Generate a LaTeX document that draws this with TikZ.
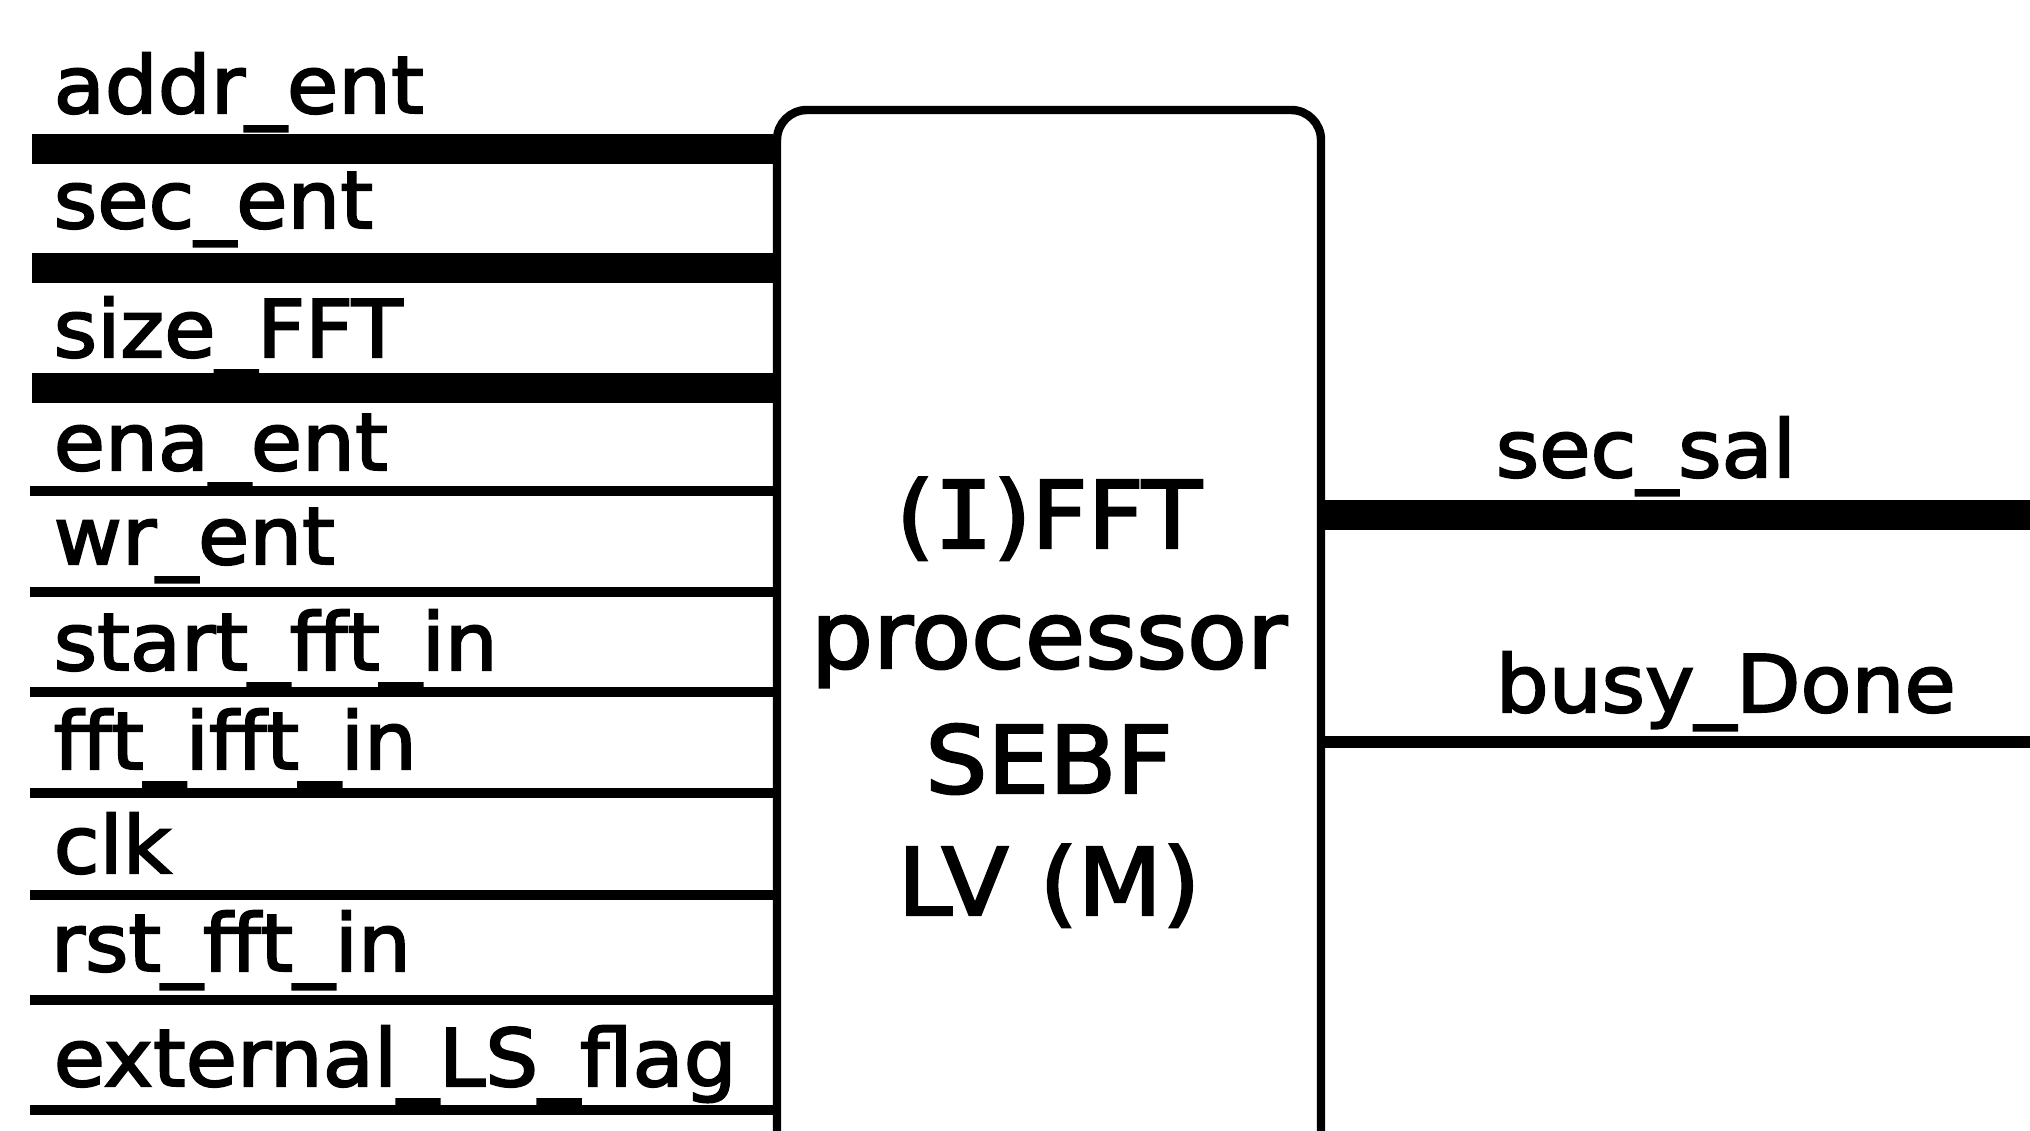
\documentclass[tikz,border=0pt]{standalone}
\usepackage{fontspec}
\setmainfont{DejaVu Sans}[FakeStretch=1.05,FakeBold=2.5]
\newfontfamily\serifI{DejaVu Sans Mono}[FakeStretch=1.05,FakeBold=2.5]
\begin{document}
\begin{tikzpicture}[x=0.01cm,y=-0.01cm,
  lbl/.style={anchor=base west,inner sep=0pt,font=\fontsize{22.6pt}{27pt}\selectfont},
  boxtxt/.style={anchor=base,inner sep=0pt,font=\fontsize{26.5pt}{32pt}\selectfont},
  bus/.style={line width=8.6pt},
  wire/.style={line width=2.9pt},
  owire/.style={line width=3.3pt},
  procbox/.style={draw,line width=2.4pt,rounded corners=8.5pt,minimum width=544*0.01cm,minimum height=1140*0.01cm,inner sep=0pt}]
\useasboundingbox (0,0) rectangle (2030,1130);
\clip (0,0) rectangle (2030,1130);
\fill[white] (0,0) rectangle (2030,1130);
% block
\node[procbox] (proc) at (1049,680) {};
\node[boxtxt] (t1) at (1049,548) {({\serifI I})FFT};
\node[boxtxt] (t2) at (1049,668) {processor};
\node[boxtxt] (t3) at (1049,793) {SEBF};
\node[boxtxt] (t4) at (1049,915) {LV (M)};
% input free ends
\coordinate (c1) at (32,149);
\coordinate (c2) at (32,268);
\coordinate (c3) at (32,388);
\coordinate (c4) at (30,491);
\coordinate (c5) at (30,592);
\coordinate (c6) at (30,692);
\coordinate (c7) at (30,793);
\coordinate (c8) at (30,895);
\coordinate (c9) at (30,1000);
\coordinate (c10) at (30,1110);
\draw[bus] (c1) -- (c1 -| proc.west);
\draw[bus] (c2) -- (c2 -| proc.west);
\draw[bus] (c3) -- (c3 -| proc.west);
\foreach \i in {4,...,10}{\draw[wire] (c\i) -- (c\i -| proc.west);}
% input labels
\node[lbl] (l1) at (53,113) {addr\_ent};
\node[lbl] (l2) at (53,228) {sec\_ent};
\node[lbl] (l3) at (53,357) {size\_FFT};
\node[lbl] (l4) at (53,470) {ena\_ent};
\node[lbl] (l5) at (53,564) {wr\_ent};
\node[lbl] (l6) at (53,670) {start\_fft\_in};
\node[lbl] (l7) at (53,769) {fft\_ifft\_in};
\node[lbl] (l8) at (53,873) {clk};
\node[lbl] (l9) at (50,971) {rst\_fft\_in};
\node[lbl] (l10) at (53,1086) {external\_LS\_flag};
% outputs
\coordinate (o1) at (2040,515);
\coordinate (o2) at (2040,742);
\draw[bus] (o1 -| proc.east) -- (o1);
\draw[owire] (o2 -| proc.east) -- (o2);
\node[lbl] (r1) at (1495,477) {sec\_sal};
\node[lbl] (r2) at (1495,712) {busy\_Done};
\end{tikzpicture}
\end{document}
